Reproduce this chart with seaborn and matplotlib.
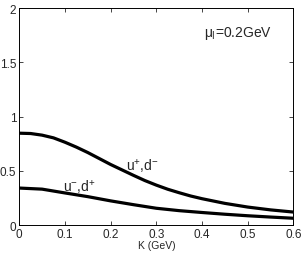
import numpy as np
import pandas as pd
import seaborn as sns
from matplotlib import pyplot as plt

sns.set_theme(style="white")
plt.rcParams['font.family'] = ['Liberation Sans', 'DejaVu Sans']
plt.rcParams['mathtext.fontset'] = 'custom'
plt.rcParams['mathtext.rm'] = 'Liberation Sans'
plt.rcParams['mathtext.it'] = 'Liberation Sans'

# values
k_up = [0.0, 0.025, 0.05, 0.075, 0.1, 0.125, 0.15, 0.175, 0.2, 0.225, 0.25,
        0.275, 0.3, 0.325, 0.35, 0.375, 0.4, 0.45, 0.5, 0.55, 0.6]
upper = [0.848, 0.845, 0.83, 0.805, 0.765, 0.72, 0.67, 0.615, 0.56, 0.51, 0.46,
         0.412, 0.37, 0.332, 0.3, 0.27, 0.245, 0.202, 0.168, 0.142, 0.122]
k_low = [0.0, 0.05, 0.1, 0.15, 0.2, 0.25, 0.3, 0.35, 0.4, 0.45, 0.5, 0.55, 0.6]
lower = [0.343, 0.333, 0.298, 0.264, 0.225, 0.19, 0.157, 0.135, 0.118, 0.102, 0.088, 0.076, 0.065]

df = pd.DataFrame({'K': k_up + k_low,
                   'val': upper + lower,
                   'curve': ['up'] * len(k_up) + ['low'] * len(k_low)})

fig = plt.figure(figsize=(3.05, 2.55), dpi=100)
ax = fig.add_axes([0.063, 0.1125, 0.899, 0.852])
sns.lineplot(data=df, x='K', y='val', units='curve', estimator=None,
             color='black', linewidth=2.3, ax=ax)

ax.set_xlim(0, 0.6)
ax.set_ylim(0, 2)
ax.set_xticks([0, 0.1, 0.2, 0.3, 0.4, 0.5, 0.6])
ax.set_xticklabels(['0', '0.1', '0.2', '0.3', '0.4', '0.5', '0.6'])
ax.set_yticks([0, 0.5, 1, 1.5, 2])
ax.set_yticklabels(['0', '0.5', '1', '1.5', '2'])
ax.tick_params(direction='in', length=3, width=0.6, labelsize=8.5, pad=2,
               top=True, right=True, bottom=True, left=True)
for s in ax.spines.values():
    s.set_color('black')
    s.set_linewidth(0.7)
ax.set_xlabel('K (GeV)', fontsize=7.5, labelpad=0)
ax.set_ylabel('')

ax.text(0.234, 0.51, r'u$^{+}$,d$^{-}$', fontsize=10)
ax.text(0.096, 0.315, r'u$^{-}$,d$^{+}$', fontsize=10)
ax.text(0.404, 1.745, r'$\mu_{\mathrm{I}}$=0.2GeV', fontsize=10)

fig.savefig('out.png', dpi=100)
